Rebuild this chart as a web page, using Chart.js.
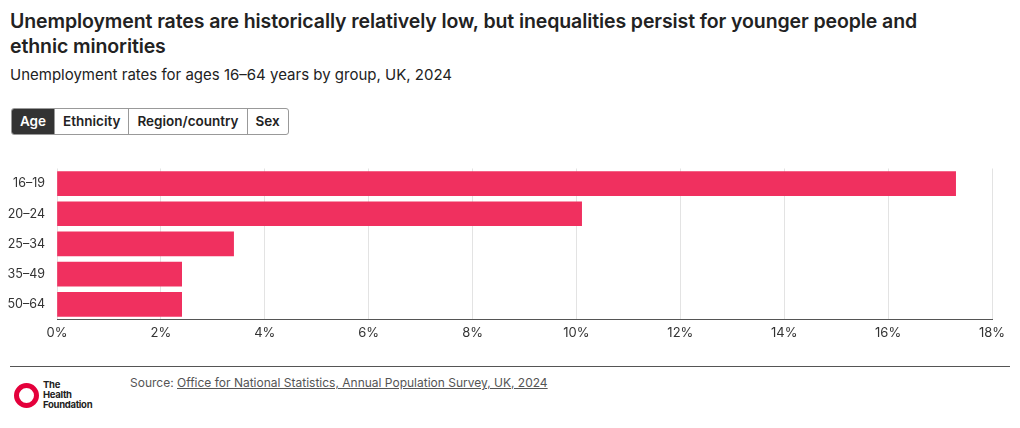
<!DOCTYPE html>
<html><head><meta charset="utf-8">
<script src="https://cdn.jsdelivr.net/npm/chart.js@4"></script>
<style>
body{margin:0;width:1020px;height:428px;font-family:Inter,"Noto Sans",sans-serif;color:#222;background:#fff;position:relative;overflow:hidden}
h1{position:absolute;left:10px;top:9px;margin:0;font-size:19.5px;line-height:25px;font-weight:600;width:955px;letter-spacing:-0.1px}
.sub{position:absolute;left:10px;top:65px;font-size:15px}
.btns{position:absolute;left:11px;top:108px;display:flex;border:1px solid #999;border-radius:3px;overflow:hidden}
.btns span{font-size:13.5px;font-weight:600;padding:5px 8px;border-left:1px solid #999;line-height:15px}
.btns span:first-child{border-left:none;background:#333;color:#fff}
#wrap{position:absolute;left:0;top:157px;width:1012px;height:190px}
.rule{position:absolute;left:10px;top:366px;width:1000px;border-top:1px solid #555}
.src{position:absolute;left:130px;top:375px;font-size:12px;color:#555}
.src u{color:#555}
.logo{position:absolute;left:14px;top:380px;display:flex;align-items:center}
.ring{width:15px;height:15px;border:5px solid #e4003b;border-radius:50%}
.lt{font-size:9.5px;font-weight:700;line-height:10px;margin-left:4px;letter-spacing:-0.3px}
</style></head><body>
<h1>Unemployment rates are historically relatively low, but inequalities persist for younger people and ethnic minorities</h1>
<div class="sub">Unemployment rates for ages 16–64 years by group, UK, 2024</div>
<div class="btns"><span>Age</span><span>Ethnicity</span><span>Region/country</span><span>Sex</span></div>
<div id="wrap"><canvas id="c"></canvas></div>
<div class="rule"></div>
<div class="logo"><div class="ring"></div><div class="lt">The<br>Health<br>Foundation</div></div>
<div class="src">Source: <u>Office for National Statistics, Annual Population Survey, UK, 2024</u></div>
<script>
const ageGroups = ['16–19', '20–24', '25–34', '35–49', '50–64'];
const rates = [17.3, 10.1, 3.4, 2.4, 2.4];
const xTicks = [0, 2, 4, 6, 8, 10, 12, 14, 16, 18];

new Chart(document.getElementById('c'), {
    type: 'bar',
    data: {
        labels: ageGroups,
        datasets: [{ data: rates, backgroundColor: '#f0305f', barThickness: 24 }]
    },
    options: {
        indexAxis: 'y',
        responsive: true,
        maintainAspectRatio: false,
        animation: false,
        layout: { padding: { top: 8, right: 20 } },
        plugins: { legend: { display: false }, tooltip: { enabled: false } },
        scales: {
            x: {
                min: 0, max: 18,
                afterBuildTicks: s => { s.ticks = xTicks.map(v => ({ value: v })); },
                ticks: { callback: v => v + '%', color: '#333', font: { family: 'Inter', size: 13 }, padding: 6 },
                grid: { color: '#e3e3e3', drawTicks: false },
                border: { display: true, color: '#555' }
            },
            y: {
                afterFit: s => { s.width = 57; },
                ticks: { color: '#333', font: { family: 'Inter', size: 12.5 }, padding: 4 },
                grid: { display: false },
                border: { display: false }
            }
        }
    }
});
</script>
</body></html>
